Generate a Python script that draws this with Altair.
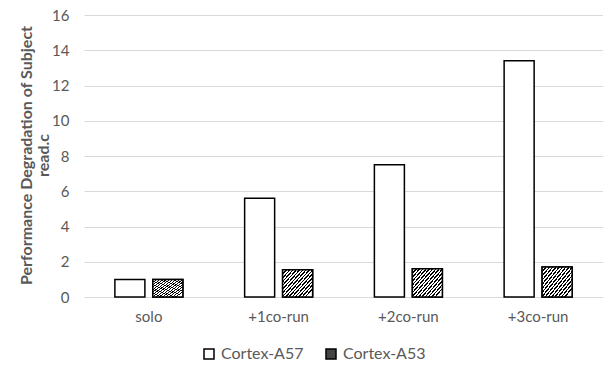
import altair as alt
import pandas as pd

categories = ["solo", "+1co-run", "+2co-run", "+3co-run"]
series_names = ["Cortex-A57", "Cortex-A53"]
a57_values = [1.0, 5.6, 7.5, 13.4]
a53_values = [1.0, 1.55, 1.6, 1.7]
y_ticks = [0, 2, 4, 6, 8, 10, 12, 14, 16]

rows = []
for c, v in zip(categories, a57_values):
    rows.append({"category": c, "series": "Cortex-A57", "value": v})
for c, v in zip(categories, a53_values):
    rows.append({"category": c, "series": "Cortex-A53", "value": v})
df = pd.DataFrame(rows)

# diagonal hatch gradient (style only)
N = 15
stops = []
for i in range(N):
    a = i / N
    b = (i + 0.45) / N
    e = (i + 1) / N
    stops += [
        {"offset": a, "color": "#000000"},
        {"offset": b, "color": "#000000"},
        {"offset": b, "color": "#ffffff"},
        {"offset": e, "color": "#ffffff"},
    ]
hatch = {"gradient": "linear", "x1": 0, "y1": 0, "x2": 1, "y2": 0.8, "stops": stops}

FONT = "Lato"
GRAY = "#595959"

x_enc = alt.X("category:N", sort=categories, title=None,
              scale=alt.Scale(paddingInner=0.476, paddingOuter=0.238),
              axis=alt.Axis(labelAngle=0, ticks=False, domain=False, labelPadding=12,
                            labelFont=FONT, labelFontSize=15, labelColor=GRAY))
xo_enc = alt.XOffset("series:N", scale=alt.Scale(domain=series_names, paddingInner=0.21, paddingOuter=0))
y_enc = alt.Y("value:Q", scale=alt.Scale(domain=[0, 16], nice=False),
              axis=alt.Axis(values=y_ticks, ticks=False, domain=False, labelPadding=15,
                            labelFont=FONT, labelFontSize=15, labelColor=GRAY,
                            gridColor="#d9d9d9", gridWidth=1.2,
                            title=["Performance Degradation of Subject", "read.c"],
                            titleFont=FONT, titleFontSize=16, titleFontWeight="bold",
                            titleColor=GRAY, titleAngle=270, titleAlign="center",
                            titleBaseline="middle", titleLineHeight=17,
                            titleX=-58, titleY=140))

base = alt.Chart(df).mark_bar(stroke="black", strokeWidth=1.5).encode(
    x=x_enc, xOffset=xo_enc, y=y_enc,
    fill=alt.Fill("series:N", sort=series_names,
                  scale=alt.Scale(domain=series_names, range=["#ffffff", "#444444"]),
                  legend=alt.Legend(title=None, orient="none", direction="horizontal",
                                    legendX=117, legendY=331, symbolType="square",
                                    symbolSize=100, symbolStrokeColor="black",
                                    symbolStrokeWidth=1.5, labelFont=FONT, labelFontSize=16,
                                    labelColor=GRAY, labelOffset=4, columnPadding=19)),
)

hatched = alt.Chart(df).transform_filter(
    alt.datum.series == "Cortex-A53"
).mark_bar(stroke="black", strokeWidth=1.5).encode(
    x=x_enc, xOffset=xo_enc, y=y_enc, fill=alt.value(hatch)
)

chart = alt.layer(base, hatched).properties(
    width=519, height=282,
    autosize=alt.AutoSizeParams(type="none"),
    padding={"left": 84, "top": 15, "right": 0, "bottom": 70},
    background="white",
).configure_view(stroke=None)

chart.save("out.html", embed_options={"renderer": "svg", "actions": False})
